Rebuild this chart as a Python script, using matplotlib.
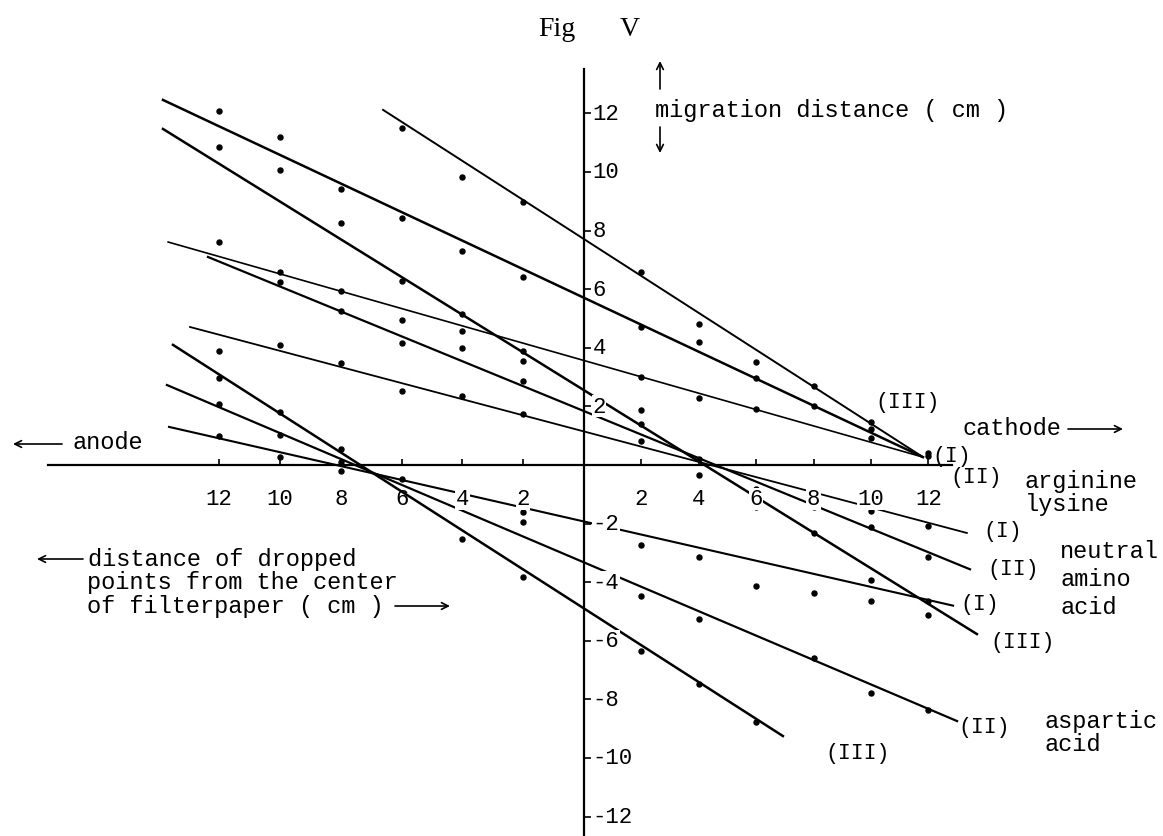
import numpy as np
import matplotlib
matplotlib.use("Agg")
import matplotlib.pyplot as plt

# migration distance (cm) against distance of the dropped point from the centre (cm)
# arginine / lysine
arg_I_x = [-12, -10, -8, -6, -4, -2, 2, 4, 6, 10, 12]
arg_I_y = [7.61, 6.59, 5.94, 4.95, 4.57, 3.89, 3.00, 2.29, 1.91, 0.92, 0.30]
arg_II_x = [-12, -10, -8, -6, -4, -2, 2, 4, 6, 8, 10]
arg_II_y = [12.08, 11.19, 9.42, 8.43, 7.30, 6.42, 4.71, 4.20, 2.97, 2.01, 1.23]
arg_III_x = [-6, -4, -2, 2, 4, 6, 8, 10, 12]
arg_III_y = [11.50, 9.83, 8.98, 6.59, 4.81, 3.52, 2.70, 1.47, 0.40]

# neutral amino acid
neu_I_x = [-12, -10, -8, -6, -4, -2, 2, 6, 10, 12]
neu_I_y = [3.89, 4.10, 3.48, 2.53, 2.35, 1.74, 0.82, -0.82, -1.57, -2.08]
neu_II_x = [-10, -8, -6, -4, -2, 2, 4, 8, 10, 12]
neu_II_y = [6.25, 5.26, 4.16, 3.99, 2.87, 1.40, -0.34, -1.43, -2.12, -3.14]
neu_III_x = [-12, -10, -8, -6, -4, -2, 2, 4, 6, 8, 10, 12]
neu_III_y = [10.85, 10.07, 8.26, 6.28, 5.15, 3.55, 1.88, 0.20, -1.43, -2.32, -3.92, -5.12]

# aspartic acid
asp_I_x = [-12, -10, -8, -6, -2, 2, 4, 6, 8, 10, 12]
asp_I_y = [0.99, 0.27, -0.20, -0.48, -1.60, -2.73, -3.14, -4.13, -4.37, -4.64, -4.64]
asp_II_x = [-12, -10, -8, -2, 2, 4, 8, 10, 12]
asp_II_y = [2.08, 1.02, 0.10, -1.95, -4.47, -5.26, -6.59, -7.78, -8.36]
asp_III_x = [-12, -10, -8, -4, -2, 2, 4, 6]
asp_III_y = [2.97, 1.81, 0.55, -2.53, -3.82, -6.35, -7.47, -8.77]

# drawn (fitted) lines: end points
arg_I_line = ([-13.68, 11.81], [7.61, 0.27])
arg_II_line = ([-13.85, 11.81], [12.46, 0.27])
arg_III_line = ([-6.61, 11.81], [12.12, 0.27])
neu_I_line = ([-12.96, 13.34], [4.71, -2.32])
neu_II_line = ([-12.37, 13.45], [7.10, -3.56])
neu_III_line = ([-13.85, 13.69], [11.47, -5.77])
asp_I_line = ([-13.65, 12.86], [1.30, -4.80])
asp_II_line = ([-13.72, 13.00], [2.73, -8.74])
asp_III_line = ([-13.52, 6.93], [4.10, -9.25])

x_ticks = [-12, -10, -8, -6, -4, -2, 2, 4, 6, 8, 10, 12]
y_ticks = [-12, -10, -8, -6, -4, -2, 2, 4, 6, 8, 10, 12]

W, H = 1163, 837
X0, Y0 = 584, 466         # pixel position of the origin
SXL, SXR = 30.4, 28.7     # px per cm, left / right of the centre (hand drawn scale)
SY = 29.3


def fwd(x):
    x = np.asarray(x, dtype=float)
    return np.where(x < 0, x * SXL, x * SXR)


def inv(u):
    u = np.asarray(u, dtype=float)
    return np.where(u < 0, u / SXL, u / SXR)


def fpx(x, y):
    """pixel position in the picture -> figure fraction"""
    return x / W, 1 - y / H


mono = ["Liberation Mono", "DejaVu Sans Mono"]
serif = ["Liberation Serif", "DejaVu Serif"]
fs = 17
fs_tick = 16
fs_num = 15.5

fig = plt.figure(figsize=(W / 100, H / 100), dpi=100)
ax = fig.add_axes([0, 0, 1, 1])
ax.set_xscale("function", functions=(fwd, inv))
ax.set_xlim(-X0 / SXL, (W - X0) / SXR)
ax.set_ylim((Y0 - H) / SY, Y0 / SY)
ax.axis("off")

# axes of the drawing
ax.plot([-17.63, 12.82], [0, 0], color="k", lw=1.6)
ax.plot([0, 0], [(Y0 - H) / SY, 13.52], color="k", lw=1.6)
ax.plot(x_ticks, np.zeros(len(x_ticks)), ls="none", marker=2, ms=4, mew=1.2, color="k")
ax.plot(np.zeros(len(y_ticks)), y_ticks, ls="none", marker=1, ms=5, mew=1.2, color="k")
for t in x_ticks:
    bb = None if t == -6 else dict(facecolor="white", edgecolor="none", pad=0.3)
    ax.text(t, -1.16, str(abs(t)), ha="center", va="center", family=mono,
            fontsize=fs_tick, bbox=bb, zorder=5)
for t in y_ticks:
    ax.text(0.3, t, str(t), ha="left", va="center", family=mono, fontsize=fs_tick,
            bbox=dict(facecolor="white", edgecolor="none", pad=0.3), zorder=5)

series = [
    (arg_I_x, arg_I_y, arg_I_line, 1.2),
    (arg_II_x, arg_II_y, arg_II_line, 1.8),
    (arg_III_x, arg_III_y, arg_III_line, 1.4),
    (neu_I_x, neu_I_y, neu_I_line, 1.3),
    (neu_II_x, neu_II_y, neu_II_line, 1.6),
    (neu_III_x, neu_III_y, neu_III_line, 1.8),
    (asp_I_x, asp_I_y, asp_I_line, 1.5),
    (asp_II_x, asp_II_y, asp_II_line, 1.6),
    (asp_III_x, asp_III_y, asp_III_line, 1.8),
]
for xs, ys, (lx, ly), lw in series:
    ax.plot(lx, ly, color="k", lw=lw, zorder=3)
    ax.plot(xs, ys, "o", color="k", ms=3.6, zorder=4)

# roman numeral labels at the line ends
for s, x, y in [("(III)", 875, 403), ("(I)", 932, 457), ("(II)", 950, 477),
                ("(I)", 983, 532), ("(II)", 987, 570), ("(I)", 960, 605),
                ("(III)", 990, 643), ("(II)", 958, 728), ("(III)", 825, 753)]:
    fig.text(*fpx(x, y), s, ha="left", va="center", family=mono, fontsize=fs_num)

fig.text(*fpx(1025, 482), "arginine", ha="left", va="center", family=mono, fontsize=fs)
fig.text(*fpx(1025, 505), "lysine", ha="left", va="center", family=mono, fontsize=fs)
fig.text(*fpx(1060, 552), "neutral", ha="left", va="center", family=mono, fontsize=fs)
fig.text(*fpx(1060, 580), "amino", ha="left", va="center", family=mono, fontsize=fs)
fig.text(*fpx(1060, 608), "acid", ha="left", va="center", family=mono, fontsize=fs)
fig.text(*fpx(1045, 722), "aspartic", ha="left", va="center", family=mono, fontsize=fs)
fig.text(*fpx(1045, 745), "acid", ha="left", va="center", family=mono, fontsize=fs)

fig.text(*fpx(962, 429), "cathode", ha="left", va="center", family=mono, fontsize=fs)
fig.text(*fpx(72, 443), "anode", ha="left", va="center", family=mono, fontsize=fs)
fig.text(*fpx(655, 110), "migration distance ( cm )", ha="left", va="center",
         family=mono, fontsize=fs)
fig.text(*fpx(88, 560), "distance of dropped", ha="left", va="center", family=mono, fontsize=fs)
fig.text(*fpx(87, 583), "points from the center", ha="left", va="center", family=mono, fontsize=fs)
fig.text(*fpx(87, 607), "of filterpaper ( cm )", ha="left", va="center", family=mono, fontsize=fs)

fig.text(*fpx(557, 30), "Fig", ha="center", va="center", family=serif, fontsize=20)
fig.text(*fpx(630, 30), "V", ha="center", va="center", family=serif, fontsize=20)

# typed arrows
arrow = dict(arrowstyle="->", lw=1.2, color="k", shrinkA=0, shrinkB=0,
             mutation_scale=12)
for (x1, y1), (x2, y2) in [((1068, 430), (1123, 430)), ((62, 445), (13, 445)),
                           ((83, 560), (37, 560)), ((395, 607), (450, 607)),
                           ((660, 90), (660, 62)), ((660, 128), (660, 154))]:
    ax.annotate("", xy=fpx(x2, y2), xytext=fpx(x1, y1), xycoords="figure fraction",
                textcoords="figure fraction", arrowprops=arrow)

fig.savefig("out.png", dpi=100)
